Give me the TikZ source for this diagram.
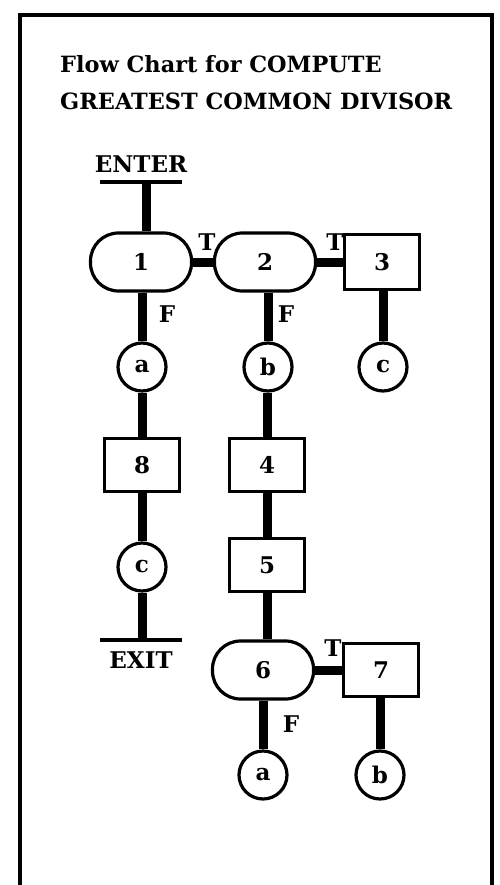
\documentclass[tikz,border=0pt]{standalone}
\usepackage{fontspec}
\setmainfont{DejaVu Serif}
\begin{document}
\begin{tikzpicture}[x=1pt,y=-1pt,
  every node/.style={font=\fontsize{23}{27}\selectfont\bfseries, inner sep=0pt},
  stad/.style={draw, line width=3.2pt, rounded corners=28pt, minimum width=101pt, minimum height=58pt},
  box/.style={draw, line width=3.2pt, minimum width=75pt, minimum height=53pt},
  conn/.style={draw, circle, line width=3.2pt, minimum size=48pt},
  link/.style={line width=9pt},
  bar/.style={line width=4pt},
  ttl/.style={font=\fontsize{22.4}{26}\selectfont\bfseries},
  lbl/.style={font=\fontsize{23}{27}\selectfont\bfseries}]
\useasboundingbox (0,0) rectangle (499,885);
\draw[line width=4.5pt] (20,15) rectangle (492,920);
% title
\node[ttl, anchor=base west] (t1) at (60,73) {Flow Chart for COMPUTE};
\node[ttl, anchor=base west] (t2) at (60,110) {GREATEST COMMON DIVISOR};
% enter
\node[anchor=base] (enter) at (141,173) {ENTER};
\coordinate (enl) at (100,182);
\coordinate (enr) at (182,182);
\coordinate (enm) at (146,182);
\draw[bar] (enl) -- (enr);
% nodes
\node[stad] (n1) at (141,262) {1};
\node[stad] (n2) at (265,262) {2};
\node[box, minimum height=55pt] (n3) at (382,262) {3};
\node[conn] (a1) at (142,367) {a};
\node[conn] (b1) at (268,367) {b};
\node[conn] (c0) at (383,367) {c};
\node[box] (n8) at (142,465) {8};
\node[box] (n4) at (267,465) {4};
\node[box] (n5) at (267,565) {5};
\node[conn] (c1) at (142,567) {c};
\coordinate (exl) at (100,640);
\coordinate (exr) at (182,640);
\coordinate (exm) at (142,640);
\node[anchor=base] (exit) at (141,668) {EXIT};
\node[stad] (n6) at (263,670) {6};
\node[box] (n7) at (381,670) {7};
\node[conn] (a2) at (263,775) {a};
\node[conn] (b2) at (380,775) {b};
% connectors
\draw[link] (enm) -- (enm |- n1.north);
\draw[link] (n1.east) -- (n2.west);
\draw[link] (n2.east) -- (n3.west);
\draw[link] (a1 |- n1.south) -- (a1.north);
\draw[link] (b1 |- n2.south) -- (b1.north);
\draw[link] (c0 |- n3.south) -- (c0.north);
\draw[link] (a1.south) -- (n8.north);
\draw[link] (n8.south) -- (c1.north);
\draw[link] (c1.south) -- (exm);
\draw[bar] (exl) -- (exr);
\draw[link] (b1.south -| n4.north) -- (n4.north);
\draw[link] (n4.south) -- (n5.north);
\draw[link] (n5.south) -- (n5.south |- n6.north);
\draw[link] (n6.east) -- (n7.west);
\draw[link] (n6.south) -- (a2.north);
\draw[link] (b2 |- n7.south) -- (b2.north);
% labels
\node[lbl] (T1) at (207,242) {T};
\node[lbl] (T2) at (335,242) {T};
\node[lbl] (T3) at (333,648) {T};
\node[lbl] (F1) at (167,314) {F};
\node[lbl] (F2) at (286,314) {F};
\node[lbl] (F3) at (291,724) {F};
\end{tikzpicture}
\end{document}
